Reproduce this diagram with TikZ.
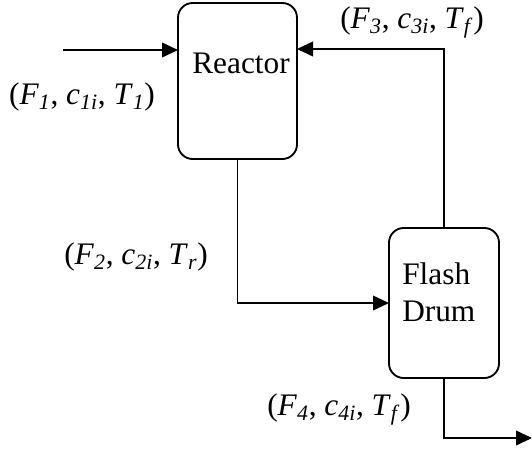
\documentclass[tikz,border=0pt]{standalone}
\usepackage{fontspec}
\setmainfont{Liberation Serif}
\usetikzlibrary{arrows.meta}
\begin{document}
\begin{tikzpicture}[x=0.75pt,y=-0.75pt,
  unit/.style={draw, line width=1.4pt, rounded corners=11pt, outer sep=0pt, inner sep=0pt},
  flow/.style={line width=1.3pt, -{Triangle[length=12pt,width=11pt]}},
  lbl/.style={font=\fontsize{23.5}{27}\selectfont, inner sep=0pt},
  txt/.style={font=\fontsize{23.5}{27}\selectfont, inner sep=0pt, align=left}]
\useasboundingbox (0,0) rectangle (532,451);
% units
\node[unit, minimum width=89.25pt, minimum height=117pt] (reactor) at (237.5,81) {};
\node[unit, minimum width=82.5pt, minimum height=112.5pt] (flash) at (444,303) {};
\node[txt] (rtext) at (241,63) {Reactor};
\node[txt, anchor=north west] (ftext) at (402,262) {Flash\\[1pt]Drum};
% stream labels
\node[lbl] (s1) at (82,97) {(\textit{F}\textsubscript{\textit{1}}, \textit{c}\textsubscript{\textit{1i}}, \textit{T}\textsubscript{\textit{1}})};
\node[lbl] (s3) at (412,22) {(\textit{F}\textsubscript{\textit{3}}, \textit{c}\textsubscript{\textit{3i}}, \textit{T}\textsubscript{\textit{f}})};
\node[lbl] (s2) at (136,257) {(\textit{F}\textsubscript{\textit{2}}, \textit{c}\textsubscript{\textit{2i}}, \textit{T}\textsubscript{\textit{r}})};
\node[lbl] (s4) at (339,409) {(\textit{F}\textsubscript{\textit{4}}, \textit{c}\textsubscript{\textit{4i}}, \textit{T}\textsubscript{\textit{f}})};
% connectors
\coordinate (feed) at (63,50);
\coordinate (rtop) at (444,49);
\coordinate (prod) at (532,438);
\draw[flow] (feed) -- (feed -| reactor.west);
\draw[flow] (flash.north) -- (rtop) -- (rtop -| reactor.east);
\draw[flow] (reactor.south) |- (flash.west);
\draw[flow] (flash.south) |- (prod);
\end{tikzpicture}
\end{document}
